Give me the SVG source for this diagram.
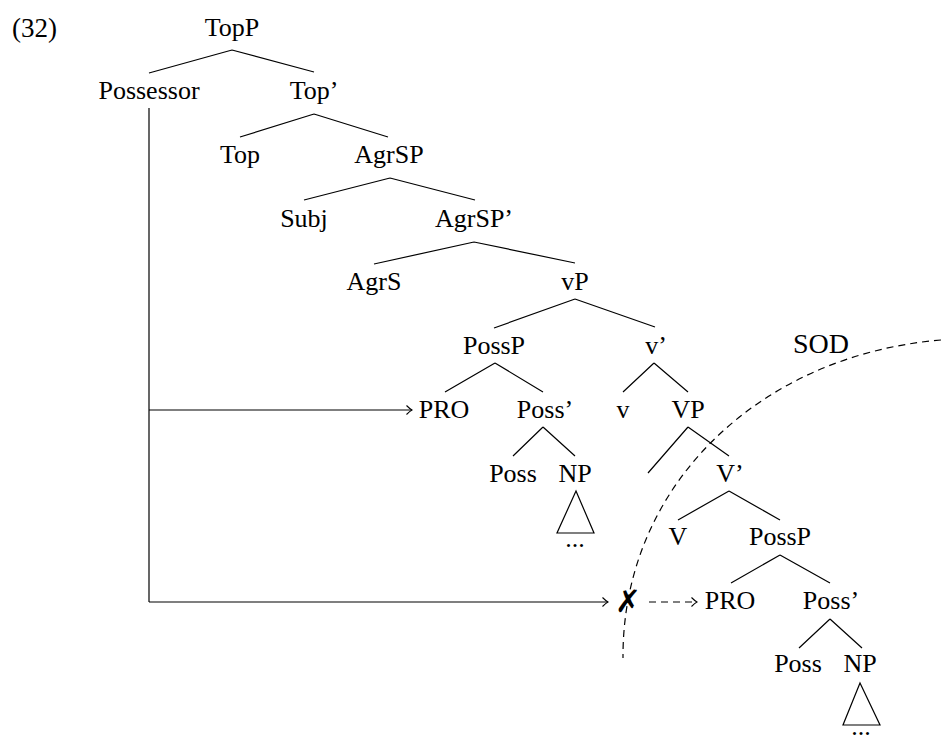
<svg xmlns="http://www.w3.org/2000/svg" width="941" height="735" viewBox="0 0 941 735">
<defs>
<style>
text{font-family:"Liberation Serif","Times New Roman",serif;font-size:26px;fill:#000;text-anchor:middle}
.e{fill:none;stroke:#000;stroke-width:1.2}
.d{stroke-dasharray:7 5}
</style>
<marker id="arr" viewBox="-7 -6 8 12" refX="0" refY="0" markerWidth="8" markerHeight="12" markerUnits="userSpaceOnUse" orient="auto">
<path d="M-5.5,-4.5 Q-2,-1 0,0 Q-2,1 -5.5,4.5" fill="none" stroke="#000" stroke-width="1.1" stroke-dasharray="none"/>
</marker>
</defs>
<rect width="941" height="735" fill="#fff"/>
<text x="12" y="37" style="text-anchor:start;font-size:27px">(32)</text>
<g id="connectors">
<path class="e" d="M232,50 L149,73 M232,50 L314,72"/>
<path class="e" d="M314,114 L240,137 M314,114 L388,137"/>
<path class="e" d="M390,178 L304,200 M390,178 L475,200"/>
<path class="e" d="M474,242 L374,264 M474,242 L575,263"/>
<path class="e" d="M575,299 L494,328 M575,299 L655,327"/>
<path class="e" d="M495,363 L445,392 M495,363 L543,392"/>
<path class="e" d="M654,363 L623,392 M654,363 L688,392"/>
<path class="e" d="M543,427 L513,456 M543,427 L575,456"/>
<path class="e" d="M576,491 L557,533 L594,533 Z"/>
<path class="e" d="M688,427 L648,473 M688,427 L729,456"/>
<path class="e" d="M729,491 L678,520 M729,491 L780,520"/>
<path class="e" d="M780,555 L731,583 M780,555 L830,583"/>
<path class="e" d="M830,619 L799,648 M830,619 L862,648"/>
<path class="e" d="M860,683 L843,725 L880,725 Z"/>
<path class="e" d="M149,108 L149,602"/>
<path class="e" d="M149,410 L412,410" marker-end="url(#arr)"/>
<path class="e" d="M149,602 L608,602" marker-end="url(#arr)"/>
<path class="e d" d="M649,602 L697,602" marker-end="url(#arr)"/>
<path class="e d" d="M941,340 C760,355 622,485 623,658"/>
</g>
<g id="TopP"><text x="232" y="36">TopP</text></g>
<g id="Possessor"><text x="149" y="99">Possessor</text></g>
<g id="TopBar"><text x="314" y="99">Top’</text></g>
<g id="Top"><text x="240" y="163">Top</text></g>
<g id="AgrSP"><text x="389" y="163">AgrSP</text></g>
<g id="Subj"><text x="304" y="227">Subj</text></g>
<g id="AgrSPBar"><text x="474" y="227">AgrSP’</text></g>
<g id="AgrS"><text x="374" y="290">AgrS</text></g>
<g id="vP"><text x="575" y="290">vP</text></g>
<g id="PossP1"><text x="494" y="354">PossP</text></g>
<g id="vBar"><text x="656" y="354">v’</text></g>
<g id="PRO1"><text x="444" y="418">PRO</text></g>
<g id="PossBar1"><text x="545" y="418">Poss’</text></g>
<g id="v"><text x="623" y="418">v</text></g>
<g id="VP"><text x="688" y="418">VP</text></g>
<g id="Poss1"><text x="513" y="482">Poss</text></g>
<g id="NP1"><text x="575" y="482">NP</text><text x="575" y="547">...</text></g>
<g id="VBar"><text x="730" y="482">V’</text></g>
<g id="V"><text x="678" y="545">V</text></g>
<g id="PossP2"><text x="780" y="545">PossP</text></g>
<g id="X"><text x="628" y="612" style="font-family:'DejaVu Sans',sans-serif;font-weight:bold;font-size:31px">✗</text></g>
<g id="PRO2"><text x="730" y="609">PRO</text></g>
<g id="PossBar2"><text x="831" y="609">Poss’</text></g>
<g id="Poss2"><text x="798" y="672">Poss</text></g>
<g id="NP2"><text x="860" y="672">NP</text><text x="861" y="735">...</text></g>
<g id="SOD"><text x="821" y="353" style="font-size:28px">SOD</text></g>
</svg>
